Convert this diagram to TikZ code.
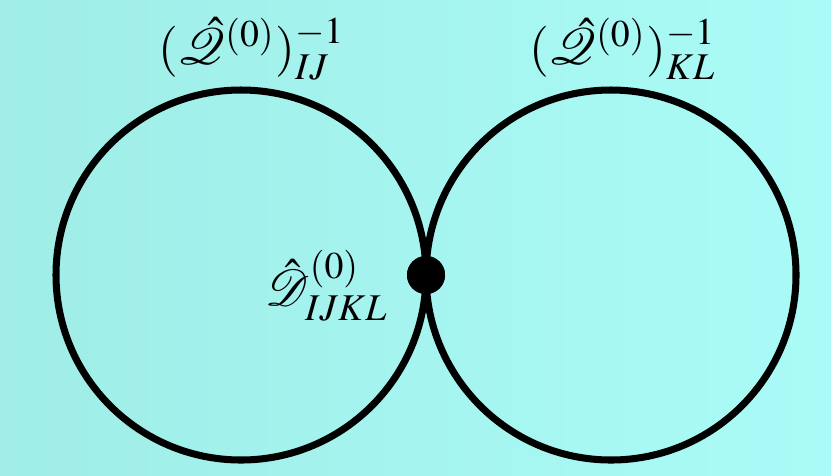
\documentclass[tikz,border=0pt]{standalone}
\usepackage{amsmath,amssymb}
\usepackage{mathptmx}
\usepackage{tikz}
\usetikzlibrary{positioning,calc}
\definecolor{fondoa}{RGB}{160,237,231}
\definecolor{fondob}{RGB}{170,251,247}
\tikzset{
  lazo/.style={line width=2pt,black},
  vertice/.style={circle,fill=black,inner sep=0pt,minimum size=0.38cm},
  etiq/.style={inner sep=1pt,font=\fontsize{14.5}{17}\selectfont},
}

\begin{document}
\begin{tikzpicture}[x=0.01cm,y=-0.01cm]
  \shade[left color=fondoa,right color=fondob] (0,0) rectangle (831,475);
  \useasboundingbox (0,0) rectangle (831,475);
  \node[vertice] (v) at (426,275) {};
  \draw[lazo] (v.center) arc[start angle=0,end angle=360,radius=185];
  \draw[lazo] (v.center) arc[start angle=180,end angle=-180,radius=185];
  \node[vertice] at (v) {};
  \node[etiq] (qizq) at (252,49) {$(\hat{\mathcal{Q}}^{(0)})^{-1}_{IJ}$};
  \node[etiq] (qder) at (623,49) {$(\hat{\mathcal{Q}}^{(0)})^{-1}_{KL}$};
  \node[etiq] (dv) at (327,286) {$\hat{\mathcal{D}}^{(0)}_{IJKL}$};
\end{tikzpicture}
\end{document}
